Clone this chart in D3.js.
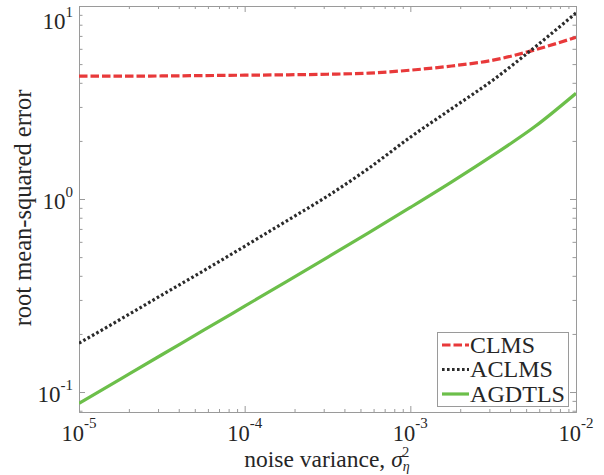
<!DOCTYPE html>
<html>
<head>
<meta charset="utf-8">
<script src="https://cdn.jsdelivr.net/npm/d3@7"></script>
<style>
  html, body { margin: 0; padding: 0; background: #fff; }
  svg { display: block; }
  text { font-family: "Liberation Serif", "DejaVu Serif", serif; fill: #262626; }
</style>
</head>
<body>
<svg id="chart" width="604" height="475"></svg>
<script>
// ---- data ----
const noiseVar = [1e-5, 1.778e-5, 3.162e-5, 5.623e-5, 1e-4, 1.778e-4, 3.162e-4, 5.623e-4, 1e-3, 1.778e-3, 3.162e-3, 5.623e-3, 1e-2];
const clms   = [4.33, 4.33, 4.34, 4.36, 4.38, 4.40, 4.43, 4.49, 4.65, 4.89, 5.24, 5.92, 6.89];
const aclms  = [0.179, 0.238, 0.318, 0.424, 0.569, 0.767, 1.035, 1.445, 2.09, 2.94, 4.14, 6.10, 9.2];
const agdtls = [0.0873, 0.1167, 0.156, 0.2084, 0.2786, 0.3724, 0.499, 0.670, 0.904, 1.227, 1.687, 2.366, 3.53];
const seriesNames = ["CLMS", "ACLMS", "AGDTLS"];
const xTickExp = [-5, -4, -3, -2];
const yTickExp = [-1, 0, 1];

// ---- layout ----
const svg = d3.select("#chart");
const L = 79, R = 576, T = 6, B = 412;
const x = d3.scaleLog().domain([1e-5, 1e-2]).range([L, R]);
const y = d3.scaleLog().domain([0.0788, 10]).range([B, T]);

const axisColor = "#9a9a9a";

// minor tick values
const xMinor = [];
for (let e = -5; e < -2; e++) for (let m = 2; m <= 9; m++) xMinor.push(m * Math.pow(10, e));
const yMinor = [];
for (let e = -2; e < 1; e++) for (let m = 2; m <= 9; m++) {
  const v = m * Math.pow(10, e);
  if (v >= 0.0788 && v <= 10) yMinor.push(v);
}
const xMajor = xTickExp.map(e => Math.pow(10, e));
const yMajor = yTickExp.map(e => Math.pow(10, e));

function drawAxis(gen, transform, values, size) {
  const g = svg.append("g").attr("transform", transform)
    .call(gen.tickValues(values).tickSize(size).tickSizeOuter(0).tickFormat(""));
  g.selectAll("path.domain").attr("stroke", axisColor);
  g.selectAll(".tick line").attr("stroke", axisColor);
  return g;
}
// bottom & top (ticks inward)
drawAxis(d3.axisBottom(x), `translate(0,${B})`, xMinor, -3);
drawAxis(d3.axisBottom(x), `translate(0,${B})`, xMajor, -6);
drawAxis(d3.axisTop(x), `translate(0,${T})`, xMinor, -3);
drawAxis(d3.axisTop(x), `translate(0,${T})`, xMajor, -6);
// left & right
drawAxis(d3.axisLeft(y), `translate(${L},0)`, yMinor, -3.5);
drawAxis(d3.axisLeft(y), `translate(${L},0)`, yMajor, -6);
drawAxis(d3.axisRight(y), `translate(${R},0)`, yMinor, -3.5);
drawAxis(d3.axisRight(y), `translate(${R},0)`, yMajor, -6);

// tick labels
xTickExp.forEach(e => {
  const t = svg.append("text").attr("x", x(Math.pow(10, e))).attr("y", 441)
    .attr("text-anchor", "middle").attr("font-size", 22.5);
  t.append("tspan").text("10");
  t.append("tspan").attr("dy", -13).attr("font-size", 15).text(String(e));
});
yTickExp.forEach(e => {
  const yy = Math.max(y(Math.pow(10, e)) + 9.5, 29);
  const t = svg.append("text").attr("x", 73).attr("y", yy)
    .attr("text-anchor", "end").attr("font-size", 23);
  t.append("tspan").text("10");
  t.append("tspan").attr("dy", -12).attr("font-size", 15).text(String(e));
});

// axis labels
const xl = svg.append("text").attr("x", 327).attr("y", 467)
  .attr("text-anchor", "middle").attr("font-size", 23.5);
xl.append("tspan").text("noise variance, ");
xl.append("tspan").attr("font-style", "italic").text("σ");
xl.append("tspan").attr("font-style", "italic").attr("font-size", 14).attr("dy", 4).text("η");
xl.append("tspan").attr("font-size", 14).attr("dx", -7.5).attr("dy", -14).text("2");

svg.append("text").attr("transform", "translate(31,208) rotate(-90)")
  .attr("text-anchor", "middle").attr("font-size", 24.5).text("root mean-squared error");

// clip
svg.append("clipPath").attr("id", "clip").append("rect")
  .attr("x", L).attr("y", T).attr("width", R - L).attr("height", B - T);

const styles = [
  { data: clms,   color: "#e8393a", dash: "8.5,3" },
  { data: aclms,  color: "#2a2a2a", dash: "2.6,2.4" },
  { data: agdtls, color: "#6cbf4a", dash: null }
];
const line = d3.line().x(d => x(d[0])).y(d => y(d[1])).curve(d3.curveMonotoneX);

const plot = svg.append("g").attr("clip-path", "url(#clip)");
styles.forEach(s => {
  plot.append("path")
    .datum(noiseVar.map((v, i) => [v, s.data[i]]))
    .attr("d", line)
    .attr("fill", "none")
    .attr("stroke", s.color)
    .attr("stroke-width", 3.2)
    .attr("stroke-dasharray", s.dash)
    .attr("stroke-linecap", "butt");
});

// legend
const lg = svg.append("g");
lg.append("rect").attr("x", 437.5).attr("y", 332.5).attr("width", 131).attr("height", 74)
  .attr("fill", "#fff").attr("stroke", axisColor).attr("stroke-width", 1);
const rowY = [345, 369.5, 394];
seriesNames.forEach((n, i) => {
  lg.append("line").attr("x1", 442).attr("x2", 469).attr("y1", rowY[i]).attr("y2", rowY[i])
    .attr("stroke", styles[i].color).attr("stroke-width", 3.2)
    .attr("stroke-dasharray", styles[i].dash);
  lg.append("text").attr("x", 470).attr("y", rowY[i] + 7.5).attr("font-size", 22.5)
    .attr("textLength", i === 0 ? 65 : (i === 1 ? 83 : 95)).attr("lengthAdjust", "spacingAndGlyphs").text(n);
});
</script>
</body>
</html>
